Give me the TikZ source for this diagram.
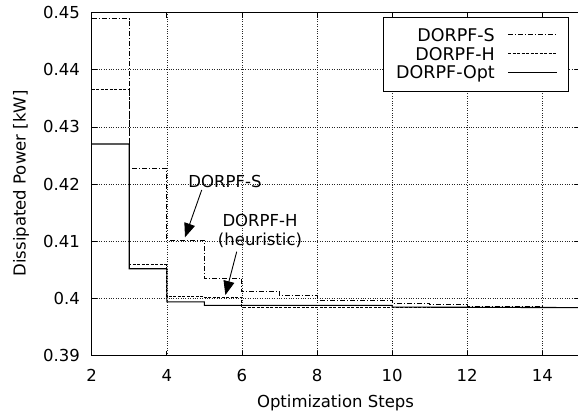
\documentclass[tikz,border=0pt]{standalone}
\usepackage{fontspec}
\setmainfont{DejaVu Sans}
\usetikzlibrary{arrows.meta}
\begin{document}
\begin{tikzpicture}[x=1pt,y=-1pt,
  lbl/.style={font=\fontsize{16.5}{19}\selectfont, inner sep=0pt},
  leglbl/.style={font=\fontsize{17.5}{20}\selectfont, inner sep=0pt, anchor=east},
  gridline/.style={line width=0.5pt, dash pattern=on 0.8pt off 1.6pt, black!85},
  border/.style={line width=1pt},
  tickmark/.style={line width=0.8pt},
  sline/.style={line width=0.9pt, dash pattern=on 5pt off 2pt on 1pt off 2pt},
  hline/.style={line width=0.9pt, dash pattern=on 3pt off 1.5pt},
  oline/.style={line width=1.1pt},
  annot/.style={line width=0.9pt, -{Triangle[length=14pt,width=11pt]}},
  legbox/.style={draw, fill=white, line width=0.8pt}
]
\useasboundingbox (0,0) rectangle (578,420);
\fill[white] (0,0) rectangle (578,420);
\begin{scope}[shift={(16.6pt,-2586.5pt)}, x=37.55pt, y=5720pt]
  % grid
  \foreach \v in {0.40,0.41,0.42,0.43,0.44}
    \draw[gridline] (2,\v) -- (15,\v);
  \foreach \s in {4,6,...,14}
    \draw[gridline] (\s,0.39) -- (\s,0.45);
\end{scope}
% legend box
\node[legbox, minimum width=185pt, minimum height=74.4pt, inner sep=0pt] (legend) at (475.8,54.5) {};
\begin{scope}[shift={(16.6pt,-2586.5pt)}, x=37.55pt, y=5720pt]
  % curves
  \draw[sline] (2,0.4489) -| (3,0.4228) -| (4,0.4102) -| (5,0.4035) -| (6,0.4012) -| (7,0.4005) -| (8,0.3997) -| (10,0.3991) -| (11,0.3989) -| (12,0.3987) -| (14,0.3985) -- (15,0.3985);
  \draw[hline] (2,0.4365) -| (3,0.4059) -| (4,0.4004) -| (5,0.4002) -| (6,0.3985) -| (10,0.3984) -- (15,0.3984);
  \draw[oline] (2,0.4270) -| (3,0.4052) -| (4,0.3994) -| (5,0.3988) -| (10,0.3985) -- (15,0.3984);
  % border
  \draw[border] (2,0.39) rectangle (15,0.45);
  % ticks
  \foreach \s in {4,6,...,14} {
    \draw[tickmark] (\s,0.39) -- ++(0,5pt);
    \draw[tickmark] (\s,0.45) -- ++(0,-5pt);
  }
  \foreach \v in {0.40,0.41,0.42,0.43,0.44} {
    \draw[tickmark] (2,\v) -- ++(5pt,0);
    \draw[tickmark] (15,\v) -- ++(-5pt,0);
  }
  % tick labels
  \foreach \v/\t [count=\i] in {0.39/0.39,0.40/0.4,0.41/0.41,0.42/0.42,0.43/0.43,0.44/0.44,0.45/0.45}
    \node[lbl, anchor=east, xshift=-11.7pt] (yl\i) at (2,\v) {\t};
  \foreach \s in {2,4,...,14}
    \node[lbl, yshift=-19.3pt] (xl\s) at (\s,0.39) {\s};
\end{scope}
% axis titles
\node[lbl, anchor=base] (xtitle) at (335.5,407.7) {Optimization Steps};
\node[lbl, anchor=base, rotate=90] (ytitle) at (25.5,183.5) {Dissipated Power [kW]};
% legend entries
\node[leglbl] (legS) at (495,35.5) {DORPF-S};
\node[leglbl] (legH) at (495,54.5) {DORPF-H};
\node[leglbl] (legO) at (495,73.5) {DORPF-Opt};
\coordinate (lSa) at (508,34.7); \coordinate (lSb) at (557,34.7);
\coordinate (lHa) at (508,53.3); \coordinate (lHb) at (557,53.3);
\coordinate (lOa) at (508,72.7); \coordinate (lOb) at (557,72.7);
\draw[sline] (lSa) -- (lSb);
\draw[hline] (lHa) -- (lHb);
\draw[oline] (lOa) -- (lOb);
% annotations
\node[lbl] (annS) at (225,181.7) {DORPF-S};
\node[lbl] (annH) at (260,220) {DORPF-H};
\node[lbl] (annH2) at (260,240.7) {(heuristic)};
\coordinate (sTail) at (201.7,190);
\coordinate (sTip) at (185,237.3);
\coordinate (hTail) at (236.7,251.7);
\coordinate (hTip) at (225.4,295);
\draw[annot] (sTail) -- (sTip);
\draw[annot] (hTail) -- (hTip);
\end{tikzpicture}
\end{document}
